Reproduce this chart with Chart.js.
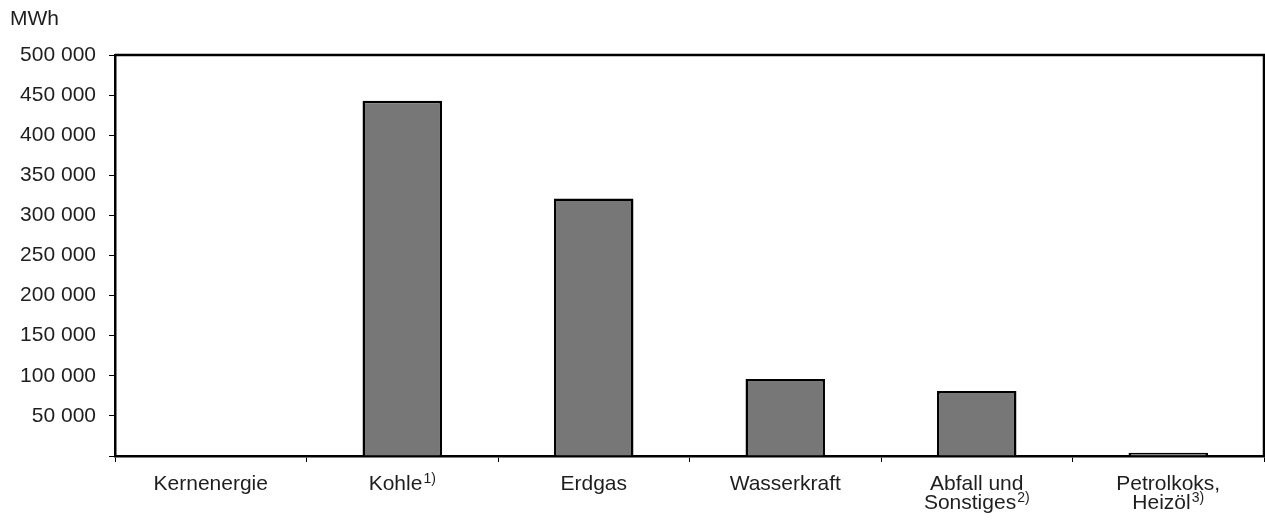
<!DOCTYPE html>
<html>
<head>
<meta charset="utf-8">
<script src="https://cdn.jsdelivr.net/npm/chart.js@4/dist/chart.umd.min.js"></script>
<style>
  body { margin: 0; background: #fff; }
  canvas { display: block; }
</style>
</head>
<body>
<canvas id="chart" width="1265" height="521"></canvas>
<script>
// categories (main text lines) and their footnote markers
var categories = [['Kernenergie'], ['Kohle'], ['Erdgas'], ['Wasserkraft'], ['Abfall und', 'Sonstiges'], ['Petrolkoks,', 'Heizöl']];
var footnotes = ['', '1)', '', '', '2)', '3)'];
// MWh
var values = [0, 443000, 321000, 96000, 81000, 4000];
var yTicks = [0, 50000, 100000, 150000, 200000, 250000, 300000, 350000, 400000, 450000, 500000];
var unitLabel = 'MWh';

var FONT = '"Liberation Sans", Arial, sans-serif';
var TEXT = '#1e1e1e';

function fmt(v){
    if(v === 0) return '';
    return String(v).replace(/\B(?=(\d{3})+(?!\d))/g, ' ');
}

var extras = {
    id: 'extras',
    afterDraw: function(chart){
        var ctx = chart.ctx, a = chart.chartArea, x = chart.scales.x;
        ctx.save();
        // frame top + right
        ctx.strokeStyle = '#000';
        ctx.lineWidth = 2.5;
        ctx.beginPath();
        ctx.moveTo(a.left, a.top);
        ctx.lineTo(a.right, a.top);
        ctx.lineTo(a.right, a.bottom);
        ctx.stroke();

        // unit
        ctx.fillStyle = TEXT;
        ctx.font = '21px ' + FONT;
        ctx.textBaseline = 'middle';
        ctx.textAlign = 'left';
        ctx.fillText(unitLabel, 10, 19);

        // category labels with superscript footnotes
        for(var i = 0; i < categories.length; i++){
            var lines = categories[i];
            var cx = x.getPixelForValue(i);
            var y0 = a.bottom + 28;
            for(var j = 0; j < lines.length; j++){
                var t = lines[j];
                var sup = (j === lines.length - 1) ? footnotes[i] : '';
                ctx.font = '21px ' + FONT;
                var w1 = ctx.measureText(t).width;
                ctx.font = '14px ' + FONT;
                var w2 = sup ? ctx.measureText(sup).width + 1 : 0;
                var sx = cx - (w1 + w2) / 2;
                var ly = y0 + j * 19.5;
                ctx.textAlign = 'left';
                ctx.font = '21px ' + FONT;
                ctx.fillText(t, sx, ly);
                if(sup){
                    ctx.font = '14px ' + FONT;
                    ctx.fillText(sup, sx + w1 + 1, ly - 5);
                }
            }
        }
        ctx.restore();
    }
};

var context = document.getElementById('chart').getContext('2d');
var myChart = new Chart(context, {
    type: 'bar',
    data: {
        labels: categories.map(function(c){ return c.join(' '); }),
        datasets: [{
            data: values,
            backgroundColor: '#777777',
            borderColor: '#000000',
            borderWidth: 2.5,
            borderSkipped: 'start',
            barPercentage: 0.415,
            categoryPercentage: 1
        }]
    },
    options: {
        responsive: false,
        animation: false,
        devicePixelRatio: 1,
        layout: { padding: { top: 55, right: 1, bottom: 0, left: 0 } },
        plugins: { legend: { display: false }, tooltip: { enabled: false } },
        scales: {
            x: {
                offset: true,
                grid: { offset: true, drawOnChartArea: false, drawTicks: true, tickLength: 6, color: '#000', lineWidth: 1 },
                border: { display: true, color: '#000', width: 2.5 },
                ticks: { display: false },
                afterFit: function(s){ s.height = 65; }
            },
            y: {
                min: 0,
                max: 500000,
                afterBuildTicks: function(s){ s.ticks = yTicks.map(function(v){ return { value: v }; }); },
                grid: { drawOnChartArea: false, drawTicks: true, tickLength: 6, color: '#000', lineWidth: 1 },
                border: { display: true, color: '#000', width: 2.5 },
                ticks: {
                    padding: 13,
                    color: TEXT,
                    font: { family: FONT, size: 21 },
                    callback: function(v){ return fmt(v); }
                },
                afterFit: function(s){ s.width = 115; }
            }
        }
    },
    plugins: [extras]
});
</script>
</body>
</html>
